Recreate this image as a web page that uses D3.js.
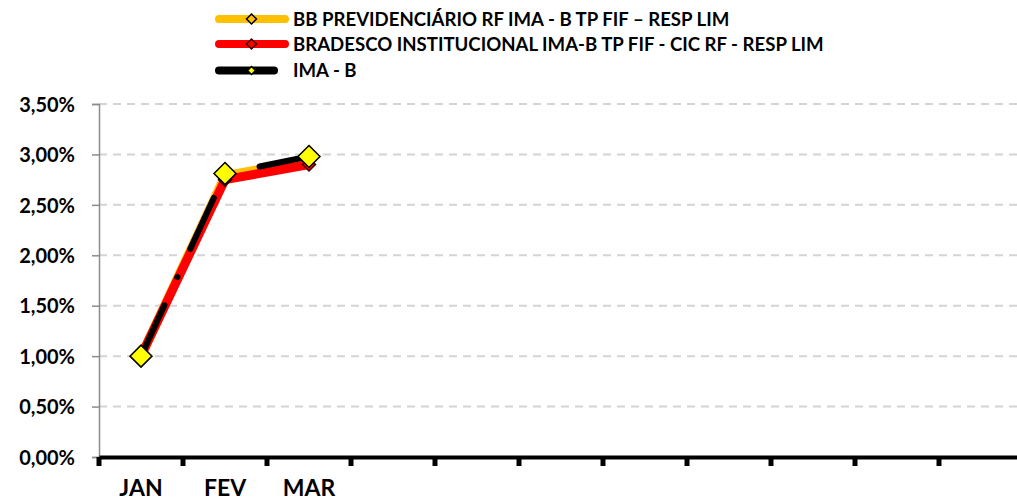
<!DOCTYPE html>
<html>
<head>
<meta charset="utf-8">
<script src="https://cdn.jsdelivr.net/npm/d3@7"></script>
<style>
  html, body { margin: 0; padding: 0; background: #fff; }
  svg { display: block; font-family: Lato, "Open Sans", sans-serif; font-weight: bold; }
</style>
</head>
<body>
<svg id="chart" width="1017" height="501"></svg>
<script>
// ---- data ----
const categories = ["JAN", "FEV", "MAR", "", "", "", "", "", "", "", "", ""];
const seriesNames = [
  "BB PREVIDENCIÁRIO RF IMA - B TP FIF – RESP LIM",
  "BRADESCO INSTITUCIONAL IMA-B TP FIF - CIC RF - RESP LIM",
  "IMA - B"
];
const bbValues = [0.0100, 0.0279, 0.0294];
const bradescoValues = [0.0100, 0.0275, 0.0290];
const imabValues = [0.0100, 0.0281, 0.0298];
const yTicks = [0, 0.005, 0.01, 0.015, 0.02, 0.025, 0.03, 0.035];

// ---- layout ----
const svg = d3.select("#chart");
const left = 99, step = 84;
const x = d3.scaleBand().domain(d3.range(categories.length))
  .range([left, left + step * categories.length]).padding(0);
const y = d3.scaleLinear().domain([0, 0.035]).range([457, 104]);
const fmt = d3.formatLocale({decimal: ",", thousands: ".", grouping: [3], currency: ["R$", ""]}).format(".2%");

// gridlines
svg.append("g").selectAll("line").data(yTicks.filter(d => d > 0)).join("line")
  .attr("x1", left).attr("x2", 1017)
  .attr("y1", d => y(d)).attr("y2", d => y(d))
  .attr("stroke", "#d4d4d4").attr("stroke-width", 2).attr("stroke-dasharray", "8,6");

// y axis
const yAxis = d3.axisLeft(y).tickValues(yTicks).tickFormat(fmt).tickSize(7).tickPadding(17);
const yg = svg.append("g").attr("transform", `translate(${left},0)`).call(yAxis);
yg.select(".domain").attr("stroke", "#8c8c8c").attr("stroke-width", 1.5);
yg.selectAll(".tick line").attr("stroke", "#8c8c8c").attr("stroke-width", 1.5);
yg.selectAll(".tick text").attr("font-size", 20).attr("font-family", "Lato").attr("font-weight", "bold")
  .attr("fill", "#000").attr("dy", "0.36em");

// x axis
const xAxis = d3.axisBottom(x).tickSize(0).tickFormat(i => categories[i]).tickPadding(22);
const xg = svg.append("g").attr("transform", `translate(0,457)`).call(xAxis);
xg.select(".domain").attr("stroke", "#000").attr("stroke-width", 4);
xg.selectAll(".tick text").attr("font-size", 23).attr("font-family", "Lato").attr("font-weight", "bold")
  .attr("fill", "#000").attr("dy", "0.72em");
// category boundary ticks
const bounds = d3.range(categories.length + 1).map(i => left + step * i);
xg.append("g").selectAll("line").data(bounds).join("line")
  .attr("x1", d => d).attr("x2", d => d).attr("y1", 0).attr("y2", 9)
  .attr("stroke", "#000").attr("stroke-width", 5);

// ---- series ----
const n = 3;
const lineGen = d3.line().x((d, i) => x(i) + x.bandwidth() / 2).y(d => y(d));
const plot = svg.append("g");
plot.append("path").datum(bbValues.slice(0, n)).attr("d", lineGen)
  .attr("fill", "none").attr("stroke", "#FFC000").attr("stroke-width", 9).attr("stroke-linejoin", "round");
plot.append("path").datum(bradescoValues.slice(0, n)).attr("d", lineGen)
  .attr("fill", "none").attr("stroke", "#FF0000").attr("stroke-width", 9).attr("stroke-linejoin", "round");

const diamond = (s) => `M0,${-s}L${s},0L0,${s}L${-s},0Z`;
// BB markers
plot.append("g").selectAll("path").data(bbValues.slice(0, n)).join("path")
  .attr("d", diamond(6.5)).attr("transform", (d, i) => `translate(${x(i) + x.bandwidth() / 2},${y(d)})`)
  .attr("fill", "#FFC000").attr("stroke", "#3a2a00").attr("stroke-width", 1.5);
// Bradesco markers
plot.append("g").selectAll("path").data(bradescoValues.slice(0, n)).join("path")
  .attr("d", diamond(6.5)).attr("transform", (d, i) => `translate(${x(i) + x.bandwidth() / 2},${y(d)})`)
  .attr("fill", "#FF0000").attr("stroke", "#400000").attr("stroke-width", 1.5);
// IMA-B line
plot.append("path").datum(imabValues.slice(0, n)).attr("d", lineGen)
  .attr("fill", "none").attr("stroke", "#000").attr("stroke-width", 6)
  .attr("stroke-linecap", "round").attr("stroke-linejoin", "round")
  .attr("stroke-dasharray", "56,31,0.1,31");
plot.append("g").selectAll("path").data(imabValues.slice(0, n)).join("path")
  .attr("d", diamond(11)).attr("transform", (d, i) => `translate(${x(i) + x.bandwidth() / 2},${y(d)})`)
  .attr("fill", "#FFFF00").attr("stroke", "#000").attr("stroke-width", 1.5);

// ---- legend ----
const legendColors = ["#FFC000", "#FF0000", "#000"];
const legendMarkerFill = ["#FFC000", "#FF0000", "#FFFF00"];
const legendMarkerStroke = ["#000", "#400000", "#000"];
const legendRows = [19, 44, 70.5];
const legendLineEnd = [289, 289, 278];
const lg = svg.append("g");
seriesNames.forEach((name, i) => {
  lg.append("line").attr("x1", 219).attr("x2", legendLineEnd[i] - 4)
    .attr("y1", legendRows[i]).attr("y2", legendRows[i])
    .attr("stroke", legendColors[i]).attr("stroke-width", 8).attr("stroke-linecap", "round");
  lg.append("path").attr("d", diamond(i === 2 ? 4 : 5))
    .attr("transform", `translate(251.5,${legendRows[i]})`)
    .attr("fill", legendMarkerFill[i]).attr("stroke", legendMarkerStroke[i]).attr("stroke-width", 1.5);
  lg.append("text").attr("x", 293).attr("y", legendRows[i]).attr("dy", "0.36em")
    .attr("font-size", 18.6).attr("fill", "#000").text(name);
});
</script>
</body>
</html>
